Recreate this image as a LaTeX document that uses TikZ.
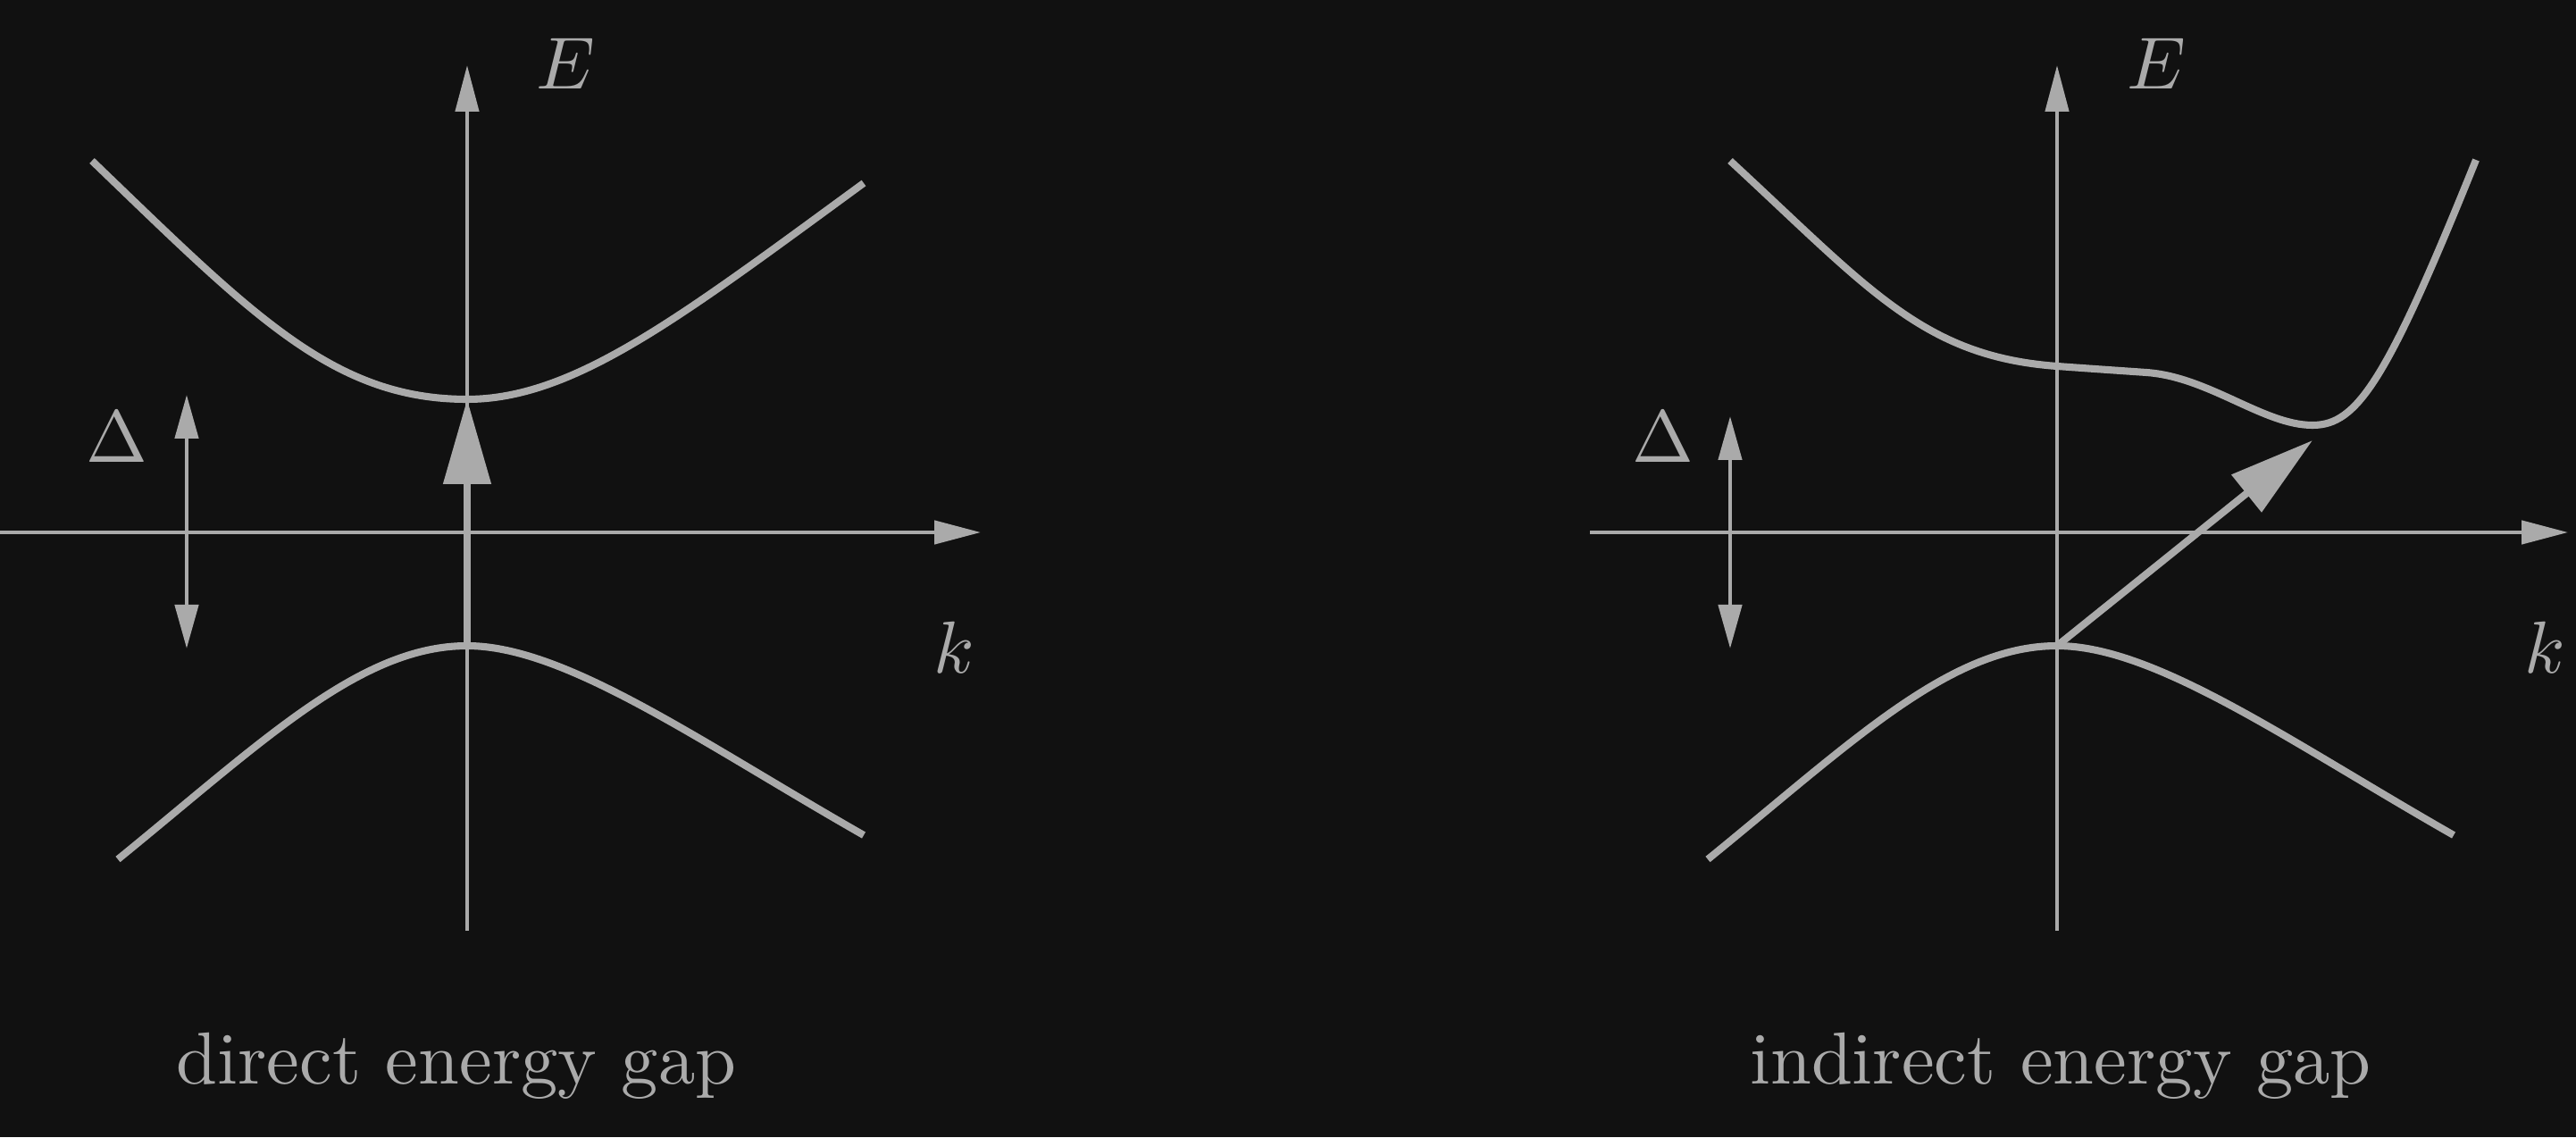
\documentclass[tikz,border=0pt]{standalone}
\usepackage{tikz}
\usetikzlibrary{arrows.meta}

\definecolor{bgcol}{HTML}{111111}
\definecolor{inkcol}{HTML}{AAAAAA}

\begin{document}
\begin{tikzpicture}[
  every node/.style={text=inkcol, inner sep=0pt, scale=2.35},
  axis/.style={draw=inkcol, line width=1.3pt, -{Triangle[length=5.2mm, width=2.6mm]}},
  gapbar/.style={draw=inkcol, line width=1.3pt, {Triangle[length=4.9mm, width=2.6mm]}-{Triangle[length=4.9mm, width=2.6mm]}},
  band/.style={draw=inkcol, line width=2.3pt},
  jump/.style={draw=inkcol, line width=2.3pt, -{Triangle[length=9.5mm, width=5.2mm]}}
]
\fill[bgcol] (-5.23,5.96) rectangle (23.61,-6.77);
\useasboundingbox (-5.23,5.96) rectangle (23.61,-6.77);

% direct gap
\begin{scope}
  \coordinate (kl1) at (-5.23,0);
  \coordinate (kr1) at (5.75,0);
  \coordinate (eb1) at (0,-4.46);
  \coordinate (et1) at (0,5.23);
  \coordinate (vb1) at (0,-1.27);
  \coordinate (cb1) at (0,1.49);
  \coordinate (dt1) at (-3.14,1.54);
  \coordinate (db1) at (-3.14,-1.30);
  \draw[axis] (kl1) -- (kr1);
  \draw[axis] (eb1) -- (et1);
  \node[anchor=base] (E1) at (1.10,4.96) {$E$};
  \node[anchor=base] (k1) at (5.45,-1.58) {$k$};
  \draw[band] (-4.20,4.16) .. controls (-2.4,2.43) and (-1.5,1.49) .. (cb1)
    .. controls (1.2,1.49) and (2.4,2.42) .. (4.44,3.91);
  \draw[band] (-3.91,-3.66) .. controls (-2.3,-2.35) and (-1.2,-1.27) .. (vb1)
    .. controls (1.1,-1.27) and (2.6,-2.34) .. (4.44,-3.39);
  \draw[jump] (vb1) -- (cb1);
  \draw[gapbar] (db1) -- (dt1);
  \node[anchor=base] (D1) at (-3.92,0.78) {$\Delta$};
  \node[anchor=base] (cap1) at (-0.12,-6.17) {direct energy gap};
\end{scope}

% indirect gap
\begin{scope}[xshift=17.80cm]
  \coordinate (kl2) at (-5.23,0);
  \coordinate (kr2) at (5.72,0);
  \coordinate (eb2) at (0,-4.46);
  \coordinate (et2) at (0,5.23);
  \coordinate (vb2) at (0,-1.27);
  \coordinate (cb2) at (2.86,1.03);
  \coordinate (dt2) at (-3.66,1.30);
  \coordinate (db2) at (-3.66,-1.30);
  \draw[axis] (kl2) -- (kr2);
  \draw[axis] (eb2) -- (et2);
  \node[anchor=base] (E2) at (1.11,4.96) {$E$};
  \node[anchor=base] (k2) at (5.46,-1.58) {$k$};
  \draw[band] (-3.66,4.16) .. controls (-2.1,2.72) and (-1.5,1.97) .. (0,1.86)
    .. controls (0.33,1.836) and (0.67,1.813) .. (1.00,1.79)
    .. controls (1.70,1.741) and (2.31,1.20) .. (2.86,1.20)
    .. controls (3.36,1.20) and (3.69,1.69) .. (4.69,4.17);
  \draw[band] (-3.91,-3.66) .. controls (-2.3,-2.35) and (-1.2,-1.27) .. (vb2)
    .. controls (1.1,-1.27) and (2.6,-2.34) .. (4.44,-3.39);
  \draw[jump] (vb2) -- (cb2);
  \draw[gapbar] (db2) -- (dt2);
  \node[anchor=base] (D2) at (-4.41,0.78) {$\Delta$};
  \node[anchor=base] (cap2) at (0.04,-6.17) {indirect energy gap};
\end{scope}
\end{tikzpicture}
\end{document}
